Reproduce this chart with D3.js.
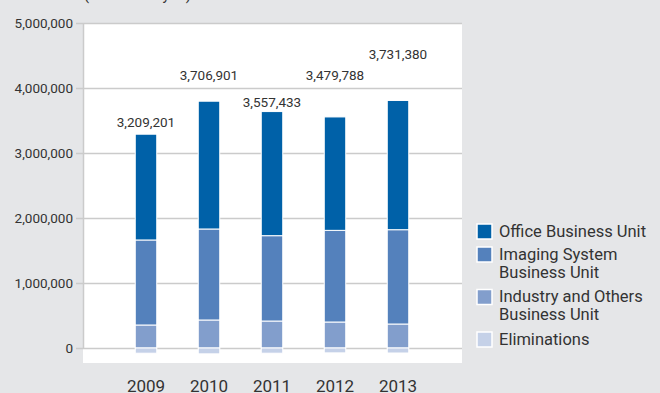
<!DOCTYPE html>
<html>
<head>
<meta charset="utf-8">
<script src="https://cdn.jsdelivr.net/npm/d3@7"></script>
<style>
  html, body { margin: 0; padding: 0; background: #e5e6e8; }
  svg { display: block; font-family: Roboto, "Liberation Sans", Arial, sans-serif; }
</style>
</head>
<body>
<svg id="chart" width="660" height="393"></svg>
<script>
// Net sales by business unit (millions of yen)
const years = ["2009", "2010", "2011", "2012", "2013"];
const officeSales = [1627201, 1965901, 1909433, 1744788, 1988380];
const imagingSales = [1308000, 1400000, 1313000, 1410000, 1451000];
const industrySales = [354000, 431000, 415000, 400000, 369000];
const eliminationSales = [-80000, -90000, -80000, -75000, -77000];
const netTotals = [3209201, 3706901, 3557433, 3479788, 3731380];
const yTickValues = [0, 1000000, 2000000, 3000000, 4000000, 5000000];
const unitNote = "(Millions of yen)";

const seriesKeys = ["industry", "imaging", "office", "eliminations"];
const legendItems = [
  { key: "office", lines: ["Office Business Unit"] },
  { key: "imaging", lines: ["Imaging System", "Business Unit"] },
  { key: "industry", lines: ["Industry and Others", "Business Unit"] },
  { key: "eliminations", lines: ["Eliminations"] }
];
const colors = {
  office: "#0061a8",
  imaging: "#5481bc",
  industry: "#829ecc",
  eliminations: "#c5d1e8"
};
// vertical lift of each total label above its bar (px)
const labelLift = [7.5, 21.5, 4.5, 37, 41];

const rows = years.map((y, i) => ({
  year: y,
  office: officeSales[i],
  imaging: imagingSales[i],
  industry: industrySales[i],
  eliminations: eliminationSales[i],
  total: netTotals[i]
}));

const svg = d3.select("#chart");
const plot = { left: 83, right: 462, top: 23, bottom: 363 };
const textColor = "#333";
const tickOut = 7;

const x = d3.scalePoint().domain(years).range([plot.left, plot.right - 1]).padding(1);
const y = d3.scaleLinear().domain([0, 5000000]).range([348, 23]);
const barWidth = 21.5;

// unit note at the top edge
svg.append("text")
  .attr("x", 84).attr("y", -0.5)
  .attr("font-size", 15).attr("fill", textColor)
  .text(unitNote);

// white plotting area
svg.append("rect")
  .attr("x", plot.left).attr("y", plot.top)
  .attr("width", plot.right - plot.left).attr("height", plot.bottom - plot.top)
  .attr("fill", "#fff");

// gridlines with short ticks poking out on the left
const yAxis = d3.axisLeft(y)
  .tickValues(yTickValues)
  .tickSize(-(plot.right - plot.left + tickOut))
  .tickFormat(d3.format(","));

const gy = svg.append("g")
  .attr("transform", `translate(${plot.left - tickOut},0)`)
  .call(yAxis);
gy.select(".domain").remove();
gy.selectAll(".tick line").attr("stroke", "#cbcbcb").attr("stroke-width", 1.5);
gy.selectAll(".tick text").remove();

svg.append("g")
  .selectAll("text")
  .data(yTickValues)
  .join("text")
  .attr("x", 73)
  .attr("y", d => y(d))
  .attr("dy", "0.37em")
  .attr("text-anchor", "end")
  .attr("font-size", 13.5)
  .attr("fill", textColor)
  .text(d => d3.format(",")(d));

// left axis line
svg.append("line")
  .attr("x1", plot.left + 0.5).attr("x2", plot.left + 0.5)
  .attr("y1", y(5000000)).attr("y2", y(0))
  .attr("stroke", "#cbcbcb").attr("stroke-width", 1.5);

// stacked bars
const stacked = d3.stack().keys(seriesKeys).offset(d3.stackOffsetDiverging)(rows);

svg.append("g")
  .selectAll("g")
  .data(stacked)
  .join("g")
  .attr("fill", d => colors[d.key])
  .selectAll("rect")
  .data(d => d)
  .join("rect")
  .attr("x", d => x(d.data.year) - barWidth / 2)
  .attr("y", d => y(Math.max(d[0], d[1])))
  .attr("width", barWidth)
  .attr("height", d => Math.abs(y(d[0]) - y(d[1])))
  .attr("stroke", "#fff")
  .attr("stroke-width", 1);

// net total labels
const tops = years.map((yr, i) => officeSales[i] + imagingSales[i] + industrySales[i]);
svg.append("g")
  .selectAll("text")
  .data(rows)
  .join("text")
  .attr("x", d => x(d.year))
  .attr("y", (d, i) => y(tops[i]) - labelLift[i])
  .attr("text-anchor", "middle")
  .attr("font-size", 13.5)
  .attr("fill", textColor)
  .text(d => d3.format(",")(d.total));

// year labels
svg.append("g")
  .selectAll("text")
  .data(years)
  .join("text")
  .attr("x", d => x(d))
  .attr("y", 392)
  .attr("text-anchor", "middle")
  .attr("font-size", 17)
  .attr("fill", textColor)
  .text(d => d);

// legend
const legend = svg.append("g");
let ly = 224;
legendItems.forEach(item => {
  legend.append("rect")
    .attr("x", 477).attr("y", ly)
    .attr("width", 15).attr("height", 15)
    .attr("fill", colors[item.key])
    .attr("stroke", "#fff").attr("stroke-width", 1.5);
  item.lines.forEach((line, j) => {
    legend.append("text")
      .attr("x", 499)
      .attr("y", ly + 12.5 + j * 18)
      .attr("font-size", 16.5)
      .attr("fill", textColor)
      .text(line);
  });
  ly += item.lines.length * 19.5 + 3.5;
});
</script>
</body>
</html>
